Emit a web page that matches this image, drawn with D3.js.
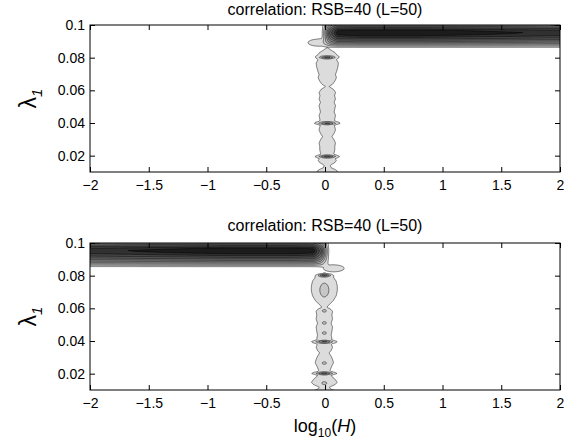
<!DOCTYPE html>
<html>
<head>
<meta charset="utf-8">
<script src="https://cdn.jsdelivr.net/npm/d3@7"></script>
<style>
body { margin: 0; background: #fff; }
svg text { font-family: "Liberation Sans", Arial, sans-serif; fill: #000; }
</style>
</head>
<body>
<div id="chart-area"></div>
<script>
// axis ticks
const xTicks = [-2, -1.5, -1, -0.5, 0, 0.5, 1, 1.5, 2];
const xTickLabels = ["\u22122", "\u22121.5", "\u22121", "\u22120.5", "0", "0.5", "1", "1.5", "2"];
const yTicks = [0.02, 0.04, 0.06, 0.08, 0.1];
const yTickLabels = ["0.02", "0.04", "0.06", "0.08", "0.1"];
const titles = ["correlation: RSB=40 (L=50)", "correlation: RSB=40 (L=50)"];

// contour levels
const levels = [0.05, 0.15, 0.25, 0.35, 0.45, 0.55, 0.65, 0.75, 0.85, 0.93];

// cross-section of the horizontal band (lambda -> level)
const bandLambdaTop = [0.1, 0.0985, 0.097, 0.0955, 0.094, 0.0928, 0.0918, 0.091, 0.0902, 0.0895, 0.0888, 0.0881, 0.0874, 0.0868, 0.0862];
const bandLambdaBot = [0.1, 0.0985, 0.097, 0.0955, 0.094, 0.0927, 0.0916, 0.0906, 0.0897, 0.0889, 0.0881, 0.0874, 0.0867, 0.086, 0.0854];
const bandLevel = [0.6, 0.78, 0.95, 1.0, 0.95, 0.86, 0.76, 0.66, 0.56, 0.46, 0.36, 0.26, 0.16, 0.07, 0];

// band strength vs distance from log10(H)=0 into the band side
const bandReach = [-0.08, -0.03, 0.0, 0.04, 0.1, 0.3, 0.8, 1.4, 2.0, 2.2];
const bandGain = [0, 0.02, 0.3, 0.7, 0.97, 1.0, 1.0, 0.96, 0.91, 0.9];

// vertical chain of blobs near log10(H)=0 : lambda, half width (log10 H)
const colLambdaTop = [0.0865, 0.085, 0.0835, 0.0815, 0.0803, 0.079, 0.077, 0.0745, 0.072, 0.070, 0.068, 0.066, 0.064, 0.0626, 0.061, 0.059, 0.057, 0.055, 0.053, 0.051, 0.049, 0.047, 0.045, 0.043, 0.041, 0.0395, 0.038, 0.036, 0.034, 0.032, 0.030, 0.028, 0.026, 0.024, 0.022, 0.0205, 0.019, 0.0175, 0.016, 0.0145, 0.013, 0.0115, 0.01];
const colHalfTop = [0, 0.03, 0.065, 0.085, 0.055, 0.08, 0.095, 0.09, 0.08, 0.07, 0.078, 0.065, 0.045, 0.015, 0.052, 0.07, 0.062, 0.07, 0.058, 0.07, 0.064, 0.058, 0.07, 0.064, 0.06, 0.05, 0.064, 0.07, 0.058, 0.04, 0.058, 0.07, 0.064, 0.064, 0.058, 0.05, 0.058, 0.078, 0.064, 0.026, 0.032, 0.078, 0.09];
const colLambdaBot = [0.082, 0.0805, 0.0795, 0.077, 0.074, 0.071, 0.068, 0.065, 0.0625, 0.061, 0.060, 0.0585, 0.056, 0.054, 0.051, 0.049, 0.046, 0.044, 0.042, 0.040, 0.0385, 0.0365, 0.0345, 0.033, 0.031, 0.029, 0.027, 0.025, 0.023, 0.0215, 0.020, 0.0185, 0.017, 0.015, 0.0135, 0.012, 0.0105, 0.01];
const colHalfBot = [0, 0.04, 0.075, 0.1, 0.11, 0.11, 0.1, 0.075, 0.04, 0.02, 0.052, 0.07, 0.064, 0.07, 0.058, 0.07, 0.064, 0.058, 0.064, 0.052, 0.058, 0.07, 0.058, 0.04, 0.058, 0.07, 0.078, 0.064, 0.052, 0.045, 0.04, 0.065, 0.09, 0.11, 0.09, 0.04, 0.065, 0.09];

// local bumps: [log10 H, lambda, spread x, spread lambda, height]
const bumpsTop = [
    [-0.06, 0.0895, 0.1, 0.0024, 0.11],
    [0.015, 0.0805, 0.07, 0.0007, 0.3],
    [0.015, 0.0402, 0.08, 0.0007, 0.3],
    [0.015, 0.0198, 0.075, 0.0007, 0.3]
];
const bumpsBot = [
    [0.07, 0.0848, 0.1, 0.0024, 0.11],
    [-0.01, 0.0805, 0.055, 0.0007, 0.3],
    [-0.01, 0.0715, 0.045, 0.0045, 0.12],
    [-0.01, 0.0588, 0.02, 0.0008, 0.12],
    [-0.01, 0.0514, 0.02, 0.0008, 0.12],
    [-0.01, 0.0452, 0.02, 0.0008, 0.12],
    [-0.01, 0.0398, 0.08, 0.0007, 0.3],
    [-0.01, 0.0268, 0.02, 0.0008, 0.12],
    [-0.01, 0.0205, 0.08, 0.0007, 0.3],
    [-0.01, 0.0145, 0.024, 0.0009, 0.12]
];

const panels = [
    { top: 25, side: 1, colX: 0.015, bandLambda: bandLambdaTop, colLambda: colLambdaTop, colHalf: colHalfTop, bumps: bumpsTop, title: titles[0], xlabel: false },
    { top: 243, side: -1, colX: -0.01, bandLambda: bandLambdaBot, colLambda: colLambdaBot, colHalf: colHalfBot, bumps: bumpsBot, title: titles[1], xlabel: true }
];

const width = 574, height = 445;
const left = 90, right = 560, plotH = 147;

const svg = d3.select("#chart-area").append("svg")
    .attr("width", width)
    .attr("height", height);

const x = d3.scaleLinear().domain([-2, 2]).range([left, right]);
const gain = d3.scaleLinear().domain(bandReach).range(bandGain).clamp(true);
const fill = d3.scaleLinear().domain([0, levels.length - 1]).range(["#dcdcdc", "#1c1c1c"]);

panels.forEach((p, k) => {
    const y = d3.scaleLinear().domain([0.01, 0.1]).range([p.top + plotH, p.top]);
    const profile = d3.scaleLinear().domain(p.bandLambda).range(bandLevel).clamp(true);
    const half = d3.scaleLinear().domain(p.colLambda).range(p.colHalf).clamp(true);

    function fieldAt(xv, lv) {
        let v = gain(p.side * xv) * profile(lv);
        p.bumps.forEach(b => {
            const dx = (xv - b[0]) / b[2], dl = (lv - b[1]) / b[3];
            v += b[4] * Math.exp(-dx * dx - dl * dl);
        });
        const hw = half(lv);
        if (hw > 0.001) {
            const dc = (xv - p.colX) / hw;
            v += 0.1 * Math.exp(-Math.LN2 * dc * dc);
        }
        return v;
    }

    // sampling grid, one cell per pixel plus a margin that gets clipped
    const nx = right - left + 5, ny = plotH + 5;
    const gridX = d3.scaleLinear().domain([0, nx - 1]).range([x.invert(left - 2), x.invert(right + 2)]);
    const gridY = d3.scaleLinear().domain([0, ny - 1]).range([y.invert(p.top - 2), y.invert(p.top + plotH + 2)]);
    const values = new Array(nx * ny);
    for (let j = 0; j < ny; j++) {
        for (let i = 0; i < nx; i++) {
            values[j * nx + i] = fieldAt(gridX(i), gridY(j));
        }
    }
    const contours = d3.contours().size([nx, ny]).thresholds(levels)(values);
    const proj = d3.geoTransform({
        point: function(gx, gy) { this.stream.point(x(gridX(gx)), y(gridY(gy))); }
    });
    const path = d3.geoPath(proj);

    svg.append("clipPath").attr("id", "clip" + k)
        .append("rect")
            .attr("x", left).attr("y", p.top)
            .attr("width", right - left).attr("height", plotH);

    svg.append("g")
        .attr("clip-path", "url(#clip" + k + ")")
        .selectAll("path")
        .data(contours)
        .join("path")
            .attr("d", path)
            .attr("fill", (d, i) => fill(i))
            .attr("stroke", "#000")
            .attr("stroke-width", 0.5);

    // axes, ticks pointing inward on all four sides
    const gx = svg.append("g").attr("transform", `translate(0,${p.top + plotH})`)
        .call(d3.axisBottom(x).tickValues(xTicks).tickFormat((d, i) => xTickLabels[i]).tickSize(-5).tickSizeOuter(0).tickPadding(8));
    const gxt = svg.append("g").attr("transform", `translate(0,${p.top})`)
        .call(d3.axisTop(x).tickValues(xTicks).tickFormat("").tickSize(-5).tickSizeOuter(0));
    const gy = svg.append("g").attr("transform", `translate(${left},0)`)
        .call(d3.axisLeft(y).tickValues(yTicks).tickFormat((d, i) => yTickLabels[i]).tickSize(-5).tickSizeOuter(0).tickPadding(5));
    const gyr = svg.append("g").attr("transform", `translate(${right},0)`)
        .call(d3.axisRight(y).tickValues(yTicks).tickFormat("").tickSize(-5).tickSizeOuter(0));
    [gx, gxt, gy, gyr].forEach(g => {
        g.select(".domain").remove();
        g.selectAll("line").attr("stroke", "#000").attr("stroke-width", 1);
        g.selectAll("text").attr("font-size", 14).attr("font-family", '"Liberation Sans", Arial, sans-serif');
    });

    svg.append("rect")
        .attr("x", left).attr("y", p.top)
        .attr("width", right - left).attr("height", plotH)
        .attr("fill", "none").attr("stroke", "#000").attr("stroke-width", 1);

    svg.append("text")
        .attr("x", x(0)).attr("y", p.top - (k === 0 ? 10 : 12))
        .attr("text-anchor", "middle")
        .attr("font-size", 16)
        .text(p.title);

    const yl = svg.append("text")
        .attr("transform", `translate(36,${p.top + plotH / 2}) rotate(-90)`)
        .attr("text-anchor", "middle")
        .attr("font-size", 23);
    yl.append("tspan").text("\u03bb");
    yl.append("tspan").attr("font-size", 15).attr("font-style", "italic").attr("dy", 6).text("1");

    if (p.xlabel) {
        const xl = svg.append("text")
            .attr("x", x(0)).attr("y", 432)
            .attr("text-anchor", "middle")
            .attr("font-size", 18);
        xl.append("tspan").text("log");
        xl.append("tspan").attr("font-size", 12).attr("dy", 5).text("10");
        xl.append("tspan").attr("dy", -5).text("(");
        xl.append("tspan").attr("font-style", "italic").text("H");
        xl.append("tspan").text(")");
    }
});
</script>
</body>
</html>
